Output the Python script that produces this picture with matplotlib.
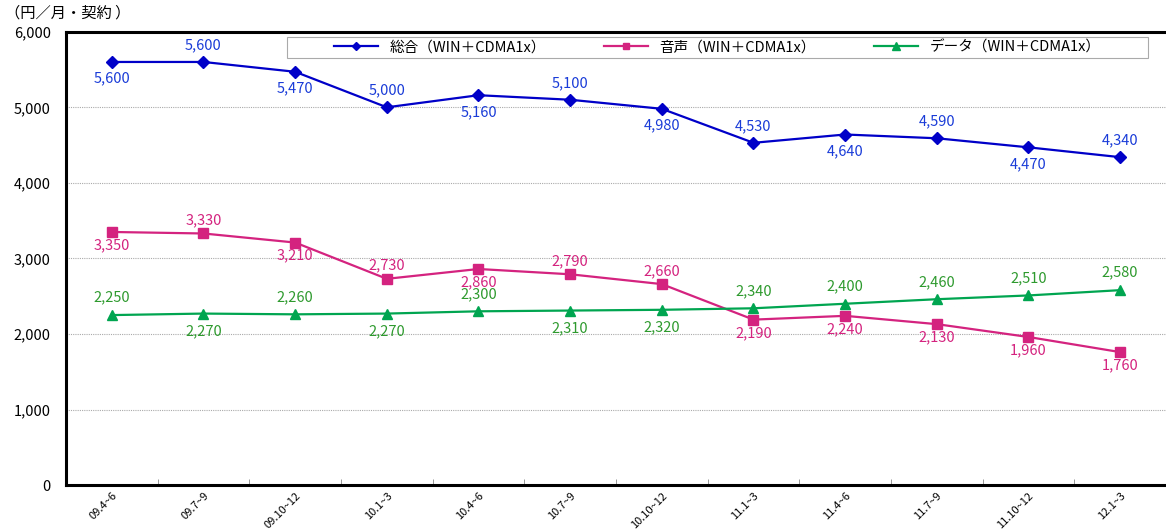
import matplotlib
matplotlib.use('Agg')
import matplotlib.pyplot as plt
from matplotlib.patches import Rectangle
from matplotlib.ticker import FuncFormatter, MultipleLocator

plt.rcParams['font.family'] = ['Noto Sans CJK JP', 'DejaVu Sans']

periods = ['09.4~6', '09.7~9', '09.10~12', '10.1~3', '10.4~6', '10.7~9',
           '10.10~12', '11.1~3', '11.4~6', '11.7~9', '11.10~12', '12.1~3']
total = [5600, 5600, 5470, 5000, 5160, 5100, 4980, 4530, 4640, 4590, 4470, 4340]
voice = [3350, 3330, 3210, 2730, 2860, 2790, 2660, 2190, 2240, 2130, 1960, 1760]
data = [2250, 2270, 2260, 2270, 2300, 2310, 2320, 2340, 2400, 2460, 2510, 2580]

# label side per point: 1 = above, -1 = below
total_side = [-1, 1, -1, 1, -1, 1, -1, 1, -1, 1, -1, 1]
voice_side = [-1, 1, -1, 1, -1, 1, 1, -1, -1, -1, -1, -1]
data_side = [1, -1, 1, -1, 1, -1, -1, 1, 1, 1, 1, 1]

names = ['総合（WIN＋CDMA1x）', '音声（WIN＋CDMA1x）', 'データ（WIN＋CDMA1x）']

fig = plt.figure(figsize=(11.66, 5.29), dpi=100)
ax = fig.add_axes([0.0566, 0.083, 0.9434, 0.857])

x = list(range(len(periods)))
series = [
    (total, total_side, '#0000C8', '#1A3CD8', 'D', 6, 12),
    (voice, voice_side, '#D4237F', '#D4237F', 's', 6.5, 9.5),
    (data, data_side, '#00A550', '#2E9A2E', '^', 7, 12.5),
]
for (vals, side, col, tcol, mk, ms, off), name in zip(series, names):
    ax.plot(x, vals, color=col, marker=mk, markersize=ms, lw=1.6, label=name)
    for xi, v, s in zip(x, vals, side):
        ax.annotate(f'{v:,}', (xi, v), xytext=(0, off * s), textcoords='offset points',
                    ha='center', va='center', color=tcol, fontsize=10.5)

ax.set_xlim(-0.5, 11.46)
ax.set_ylim(0, 6000)
ax.yaxis.set_major_locator(MultipleLocator(1000))
ax.yaxis.set_major_formatter(FuncFormatter(lambda v, p: f'{int(v):,}'))
ax.grid(axis='y', color='#AAAAAA', linestyle=(0, (1, 1)), linewidth=0.8)
ax.set_axisbelow(True)

ax.set_xticks(x)
ax.set_xticklabels(periods, rotation=45, ha='right', rotation_mode='anchor', fontsize=8)
ax.set_xticks([i + 0.5 for i in range(-1, 12)], minor=True)
ax.tick_params(axis='x', which='major', length=0, pad=4)
ax.tick_params(axis='x', which='minor', length=4, direction='in', color='#888888')
ax.tick_params(axis='y', length=0, labelsize=10.5, pad=11)

for sp in ['left', 'bottom', 'top']:
    ax.spines[sp].set_linewidth(2.2)
ax.spines['right'].set_visible(False)

# legend box
ax.add_patch(Rectangle((0.201, 0.943), 0.783, 0.046, transform=ax.transAxes,
                       facecolor='white', edgecolor='#AAAAAA', lw=0.8, zorder=4))
leg = ax.legend(loc='center', bbox_to_anchor=(0.592, 0.966), ncol=3, fontsize=10.5,
                frameon=False, handlelength=3, columnspacing=4, markerscale=0.75)
leg.set_zorder(5)

fig.text(0.004, 0.975, '（円／月・契約 ）', fontsize=11, ha='left', va='center')

fig.savefig('out.png', dpi=100)
